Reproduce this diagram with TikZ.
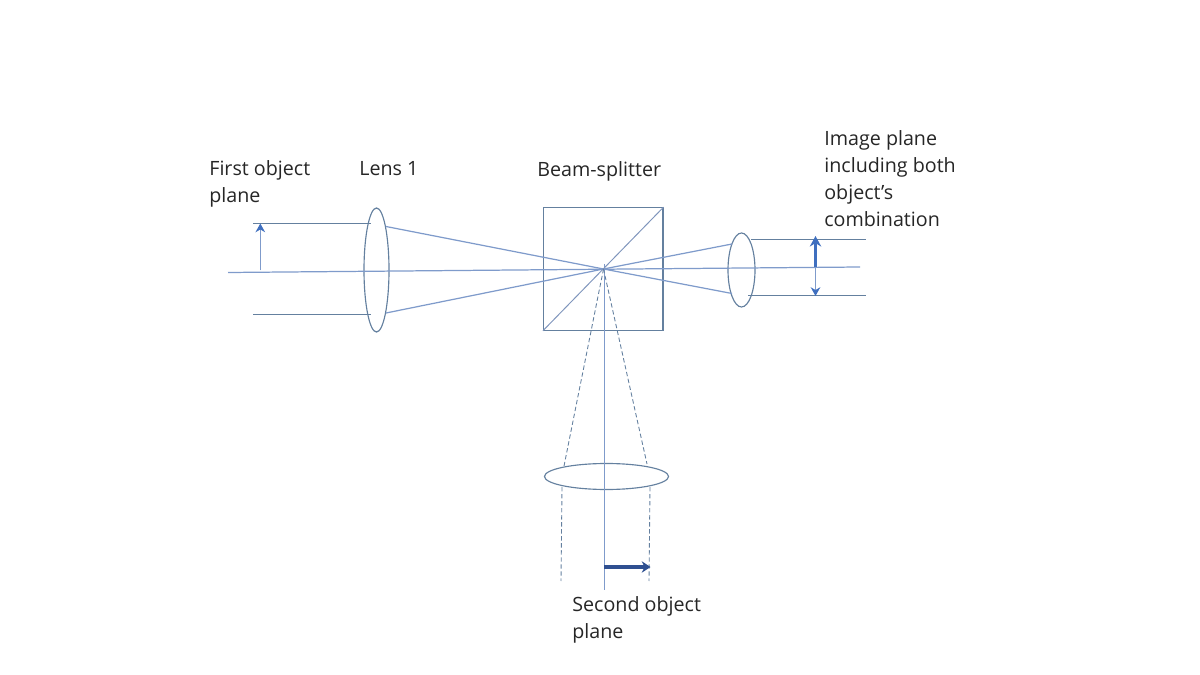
\documentclass[tikz,border=0pt]{standalone}
\usepackage{xcolor}
\usepackage{fontspec}
\setmainfont{Open Sans}
\usetikzlibrary{positioning,shapes,arrows.meta}
\definecolor{rayblue}{HTML}{7F9BCB}
\definecolor{edgeblue}{HTML}{64809F}
\definecolor{arrowblue}{HTML}{3F6FBF}
\definecolor{darkblue}{HTML}{2F5091}

\begin{document}
\begin{tikzpicture}[
    x=0.02cm,y=-0.02cm,
    >={Stealth[length=5pt,width=5pt]},
    ray/.style={draw=rayblue,line width=0.7pt},
    rim/.style={draw=edgeblue,line width=0.65pt},
    dashray/.style={draw=edgeblue,line width=0.5pt,dash pattern=on 2.5pt off 1.5pt},
    lens/.style={ellipse,rim,inner sep=0pt,minimum width=#1},
    label/.style={anchor=west,align=left,inner sep=0pt,font=\fontsize{11.2}{15.4}\selectfont,text=black!85}
  ]
  \useasboundingbox (0,0) rectangle (1200,675);
  % optics
  \node[rectangle,rim,inner sep=0pt,minimum width=119.5*0.02cm,minimum height=122.5*0.02cm] (Cube) at (603.2,269) {};
  \node[lens=25*0.02cm,minimum height=124*0.02cm] (LensA) at (376.5,270) {};
  \node[lens=27*0.02cm,minimum height=74*0.02cm] (LensB) at (741.5,270) {};
  \node[lens=124*0.02cm,minimum height=26*0.02cm] (LensC) at (606.5,476.5) {};
  % free ends of the rays
  \coordinate (Focus) at (603.5,269);
  \coordinate (AxisL) at (228,272.5);
  \coordinate (AxisR) at (860,267);
  \coordinate (TopA) at (253,223.5);
  \coordinate (TopAe) at (371,223.5);
  \coordinate (BotA) at (253,314.5);
  \coordinate (BotAe) at (371,314.5);
  \coordinate (OutAt) at (386,226.5);
  \coordinate (OutAb) at (386,313);
  \coordinate (OutBt) at (732,244);
  \coordinate (OutBb) at (732,293.5);
  \coordinate (TopB) at (751,239.5);
  \coordinate (TopBe) at (866,239.5);
  \coordinate (BotB) at (748,295.5);
  \coordinate (BotBe) at (866,295.5);
  \coordinate (VertT) at (604.5,264);
  \coordinate (VertB) at (604.5,590);
  \coordinate (DashL) at (564,466);
  \coordinate (DashR) at (647,464);
  \coordinate (LowLt) at (562,487);
  \coordinate (LowLb) at (561,581);
  \coordinate (LowRt) at (650,487);
  \coordinate (LowRb) at (649,581);
  \coordinate (ObjA) at (260.3,270.5);
  \coordinate (ObjAe) at (260.3,223.5);
  \coordinate (ImgM) at (815.5,267);
  \coordinate (ImgT) at (815.5,236);
  \coordinate (ImgB) at (815.5,296);
  \coordinate (ObjB) at (604,567);
  \coordinate (ObjBe) at (650.5,567);
  \path[ray] (AxisL) edge (AxisR)
    (OutAt) edge (Focus)
    (OutAb) edge (Focus)
    (Focus) edge (OutBt)
    (Focus) edge (OutBb)
    (VertT) edge (VertB);
  \path[rim] (TopA) edge (TopAe)
    (BotA) edge (BotAe)
    (TopB) edge (TopBe)
    (BotB) edge (BotBe);
  \draw[ray,draw=rayblue!80!gray,line width=0.55pt] (Cube.south west) -- (Cube.north east);
  \path[dashray] (Focus) edge (DashL)
    (Focus) edge (DashR)
    (LowLt) edge (LowLb)
    (LowRt) edge (LowRb);
  % object and image arrows
  \draw[->,draw=rayblue,line width=0.6pt,>={Stealth[length=5pt,width=5.5pt,color=arrowblue]}] (ObjA) -- (ObjAe);
  \draw[->,draw=arrowblue,line width=2.2pt,>={Stealth[length=6pt,width=6.5pt]}] (ImgM) -- (ImgT);
  \draw[->,draw=rayblue,line width=0.6pt,>={Stealth[length=5pt,width=5.5pt,color=arrowblue]}] (ImgM) -- (ImgB);
  \draw[->,draw=darkblue,line width=2.2pt,>={Stealth[length=5pt,width=6.5pt]}] (ObjB) -- (ObjBe);
  % labels
  \node[label] (LabA) at (209,184) {First object\\plane};
  \node[label] (LabL) at (359,169) {Lens 1};
  \node[label] (LabC) at (537,171) {Beam-splitter};
  \node[label] (LabI) at (824,179) {Image plane\\including both\\object’s\\combination};
  \node[label] (LabB) at (572,620) {Second object\\plane};
\end{tikzpicture}
\end{document}
